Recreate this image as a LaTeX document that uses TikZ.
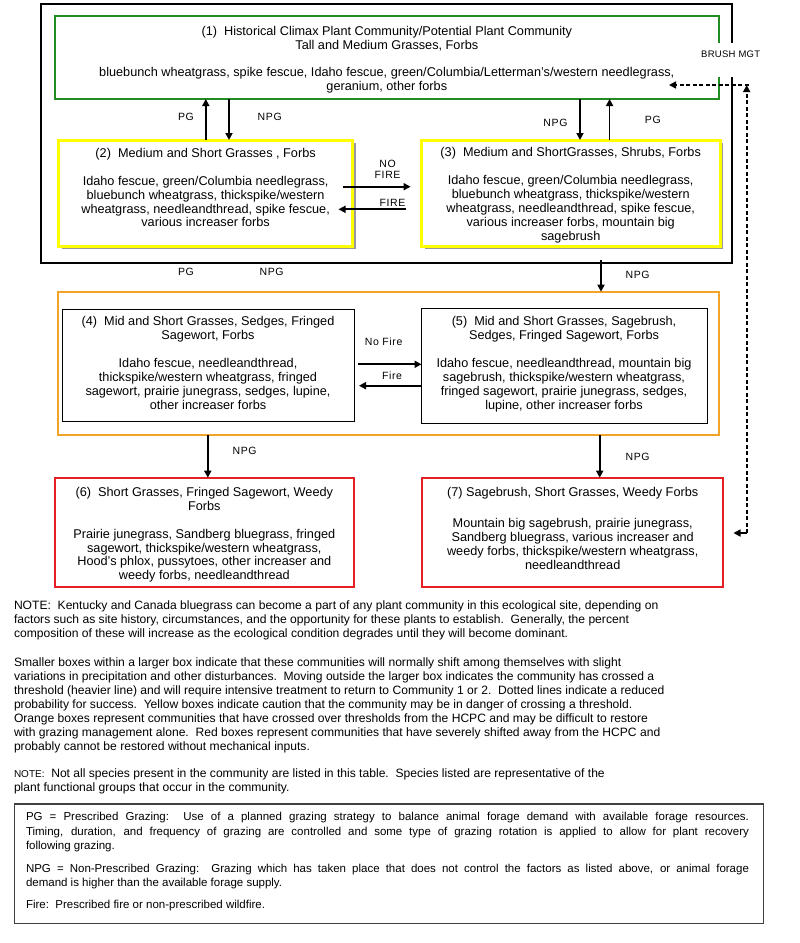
\documentclass[tikz,border=0pt]{standalone}
\usepackage{fontspec}
\setmainfont{Liberation Sans}
\newfontfamily\hcLblFam{Liberation Sans}[LetterSpace=6]
\newfontfamily\hcBrushFam{Liberation Sans}[LetterSpace=3]
\usetikzlibrary{arrows.meta,shadows,calc}
\definecolor{hgreen}{RGB}{34,139,34}
\definecolor{horange}{RGB}{242,164,40}
\definecolor{hred}{RGB}{228,32,36}
\definecolor{hyellow}{RGB}{255,255,0}
\definecolor{hgray}{RGB}{64,64,64}
\newcommand\hcBoxFont{\fontsize{12.7}{13.9}\selectfont}
\newcommand\hcNoteFont{\fontsize{12.1}{14}\selectfont}
\newcommand\hcLegFont{\fontsize{11.5}{14.2}\selectfont}
\newcommand\hcLblFont{\hcLblFam\fontsize{10.5}{11.7}\selectfont}
\begin{document}
\begin{tikzpicture}[x=1pt,y=-1pt,
  every node/.style={inner sep=0pt,outer sep=0pt},
  frame/.style={anchor=north west, draw=black, line width=2pt},
  greenbox/.style={anchor=north west, draw=hgreen, line width=2pt},
  yellowbox/.style={anchor=north west, draw=hyellow, line width=3pt, fill=white,
     drop shadow={shadow xshift=3pt, shadow yshift=-3pt, fill=black!40, opacity=1}},
  orangebox/.style={anchor=north west, draw=horange, line width=2pt},
  thinbox/.style={anchor=north west, draw=black, line width=0.9pt},
  redbox/.style={anchor=north west, draw=hred, line width=2pt},
  legendbox/.style={anchor=north west, draw=hgray, line width=1.3pt},
  boxtext/.style={anchor=north, align=center, font=\hcBoxFont},
  notetext/.style={anchor=north west, align=left, font=\hcNoteFont},
  legtext/.style={anchor=north west, align=left, font=\hcLegFont},
  lbl/.style={font=\hcLblFont},
  arr/.style={line width=1.7pt, -{Triangle[length=7pt,width=7pt]}},
  dasharr/.style={line width=1.6pt, dash pattern=on 4pt off 2.5pt, -{Triangle[length=7pt,width=7pt]}},
]
\useasboundingbox (0,0) rectangle (800,943);
\fill[white] (0,0) rectangle (800,943);

% ---- boxes
\node[frame, minimum width=691.5pt, minimum height=259.3pt] (outer) at (40.8,4) {};
\node[greenbox, minimum width=664.4pt, minimum height=83.3pt] (b1) at (54.6,15.7) {};
\node[yellowbox, minimum width=294.2pt, minimum height=106pt] (b2) at (58.5,140) {};
\node[yellowbox, minimum width=298.5pt, minimum height=106pt] (b3) at (421.5,140) {};
\node[orangebox, minimum width=661pt, minimum height=143.3pt] (orng) at (58,291.7) {};
\node[thinbox, minimum width=292pt, minimum height=112.7pt] (b4) at (62,309) {};
\node[thinbox, minimum width=285.5pt, minimum height=115pt] (b5) at (421.5,308.3) {};
\node[redbox, minimum width=299.4pt, minimum height=109.6pt] (b6) at (54.6,477.7) {};
\node[redbox, minimum width=301.8pt, minimum height=109.6pt] (b7) at (421.5,477.7) {};
\node[legendbox, minimum width=749pt, minimum height=119.3pt] (leg) at (14.3,804) {};

% ---- gap for BRUSH MGT
\node[fill=white, minimum width=56pt, minimum height=34pt] (gap) at (730.7,59.7) {};
\node[font=\hcBrushFam\fontsize{9.5}{11}\selectfont] (brush) at (730.7,54) {BRUSH MGT};

% ---- box texts
\node[boxtext] (t1) at (386.8,26) {(1)\ \ Historical Climax Plant Community/Potential Plant Community\\
Tall and Medium Grasses, Forbs\\[13.9pt]
bluebunch wheatgrass, spike fescue, Idaho fescue, green/Columbia/Letterman's/western needlegrass,\\
geranium, other forbs};

\node[boxtext] (t2) at (205.6,148.2) {(2)\ \ Medium and Short Grasses , Forbs\\[13.9pt]
Idaho fescue, green/Columbia needlegrass,\\
bluebunch wheatgrass, thickspike/western\\
wheatgrass, needleandthread, spike fescue,\\
various increaser forbs};

\node[boxtext] (t3) at (570.7,147.6) {(3)\ \ Medium and ShortGrasses, Shrubs, Forbs\\[13.9pt]
Idaho fescue, green/Columbia needlegrass,\\
bluebunch wheatgrass, thickspike/western\\
wheatgrass, needleandthread, spike fescue,\\
various increaser forbs, mountain big\\
sagebrush};

\node[boxtext] (t4) at (208,316.6) {(4)\ \ Mid and Short Grasses, Sedges, Fringed\\
Sagewort, Forbs\\[13.9pt]
Idaho fescue, needleandthread,\\
thickspike/western wheatgrass, fringed\\
sagewort, prairie junegrass, sedges, lupine,\\
other increaser forbs};

\node[boxtext] (t5) at (564,316.6) {(5)\ \ Mid and Short Grasses, Sagebrush,\\
Sedges, Fringed Sagewort, Forbs\\[13.9pt]
Idaho fescue, needleandthread, mountain big\\
sagebrush, thickspike/western wheatgrass,\\
fringed sagewort, prairie junegrass, sedges,\\
lupine, other increaser forbs};

\node[boxtext] (t6) at (204.3,487.2) {(6)\ \ Short Grasses, Fringed Sagewort, Weedy\\
Forbs\\[13.9pt]
Prairie junegrass, Sandberg bluegrass, fringed\\
sagewort, thickspike/western wheatgrass,\\
Hood's phlox, pussytoes, other increaser and\\
weedy forbs, needleandthread};

\node[boxtext] (t7) at (572.7,487.2) {(7) Sagebrush, Short Grasses, Weedy Forbs\\[17.3pt]
Mountain big sagebrush, prairie junegrass,\\
Sandberg bluegrass, various increaser and\\
weedy forbs, thickspike/western wheatgrass,\\
needleandthread};

% ---- vertical transition arrows
\coordinate (xa) at (205.8,0);
\coordinate (xb) at (229,0);
\coordinate (xc) at (580,0);
\coordinate (xd) at (609.6,0);
\coordinate (xe) at (601,0);
\coordinate (xf) at (207.8,0);
\coordinate (xg) at (599.7,0);
\draw[arr] (b2.north -| xa) -- (b1.south -| xa);
\draw[arr] (b1.south -| xb) -- (b2.north -| xb);
\draw[arr] (b1.south -| xc) -- (b3.north -| xc);
\draw[arr] (b3.north -| xd) -- (b1.south -| xd);
\draw[arr] ($(outer.south -| xe)+(0,-3)$) -- (orng.north -| xe);
\draw[arr] (orng.south -| xf) -- (b6.north -| xf);
\draw[arr] (orng.south -| xg) -- (b7.north -| xg);

% ---- fire arrows
\coordinate (ya) at (0,186.7);
\coordinate (yb) at (0,209.3);
\coordinate (yc) at (0,364.3);
\coordinate (yd) at (0,385.7);
\draw[arr] ($(b2.east |- ya)+(-9.8,0)$) -- ($(b3.west |- ya)+(-10.9,0)$);
\draw[arr] ($(b3.west |- yb)+(-15.8,0)$) -- ($(b2.east |- yb)+(-14.2,0)$);
\draw[arr] ($(b4.east |- yc)+(4,0)$) -- (b5.west |- yc);
\draw[arr] (b5.west |- yd) -- ($(b4.east |- yd)+(5,0)$);

% ---- dashed brush management connector
\coordinate (dtop) at (746.7,85);
\coordinate (dbot) at (746.7,533);
\coordinate (d7) at (733.5,533);
\coordinate (dright) at (748.5,85);
\draw[dasharr] (dbot) -- (dtop);
\draw[line width=1.6pt, -{Triangle[length=7pt,width=7pt]}] (dbot) -- (d7);
\draw[dasharr] (dright) -- ($(b1.east |- dtop)+(-50,0)$);

% ---- labels
\node[lbl] (pg1) at (186,117.3) {PG};
\node[lbl] (npg1) at (269.7,117.3) {NPG};
\node[lbl] (npg2) at (555.5,123) {NPG};
\node[lbl] (pg2) at (652.8,120) {PG};
\node[lbl, align=center] (nofire) at (387.6,169.2) {NO\\FIRE};
\node[lbl] (fire) at (392.5,202.7) {FIRE};
\node[lbl] (pg3) at (186,271.7) {PG};
\node[lbl] (npg3) at (271.6,271.7) {NPG};
\node[lbl] (npg4) at (637.6,275) {NPG};
\node[lbl] (nofire2) at (383.6,341.7) {No Fire};
\node[lbl] (fire2) at (392,375.7) {Fire};
\node[lbl] (npg5) at (244.6,450.7) {NPG};
\node[lbl] (npg6) at (637.6,456.7) {NPG};

% ---- notes
\node[notetext] (note1) at (14,601.2) {NOTE:\ \ Kentucky and Canada bluegrass can become a part of any plant community in this ecological site, depending on\\
factors such as site history, circumstances, and the opportunity for these plants to establish.\ \ Generally, the percent\\
composition of these will increase as the ecological condition degrades until they will become dominant.};

\node[notetext] (note2) at (14,657.9) {Smaller boxes within a larger box indicate that these communities will normally shift among themselves with slight\\
variations in precipitation and other disturbances.\ \ Moving outside the larger box indicates the community has crossed a\\
threshold (heavier line) and will require intensive treatment to return to Community 1 or 2.\ \ Dotted lines indicate a reduced\\
probability for success.\ \ Yellow boxes indicate caution that the community may be in danger of crossing a threshold.\\
Orange boxes represent communities that have crossed over thresholds from the HCPC and may be difficult to restore\\
with grazing management alone.\ \ Red boxes represent communities that have severely shifted away from the HCPC and\\
probably cannot be restored without mechanical inputs.};

\node[notetext] (note3) at (14,769.2) {{\fontsize{10}{14}\selectfont NOTE:}\ \ Not all species present in the community are listed in this table.\ \ Species listed are representative of the\\
plant functional groups that occur in the community.};

% ---- legend
\node[legtext] (leg1) at (26,812.6) {\makebox[723pt][s]{PG = Prescribed Grazing:\ \ Use of a planned grazing strategy to balance animal forage demand with available forage resources.}\\
\makebox[723pt][s]{Timing, duration, and frequency of grazing are controlled and some type of grazing rotation is applied to allow for plant recovery}\\
following grazing.};
\node[legtext] (leg2) at (26,864.3) {\makebox[723pt][s]{NPG = Non-Prescribed Grazing:\ \ Grazing which has taken place that does not control the factors as listed above, or animal forage}\\
demand is higher than the available forage supply.};
\node[legtext] (leg3) at (26,900.3) {Fire:\ \ Prescribed fire or non-prescribed wildfire.};
\end{tikzpicture}
\end{document}
